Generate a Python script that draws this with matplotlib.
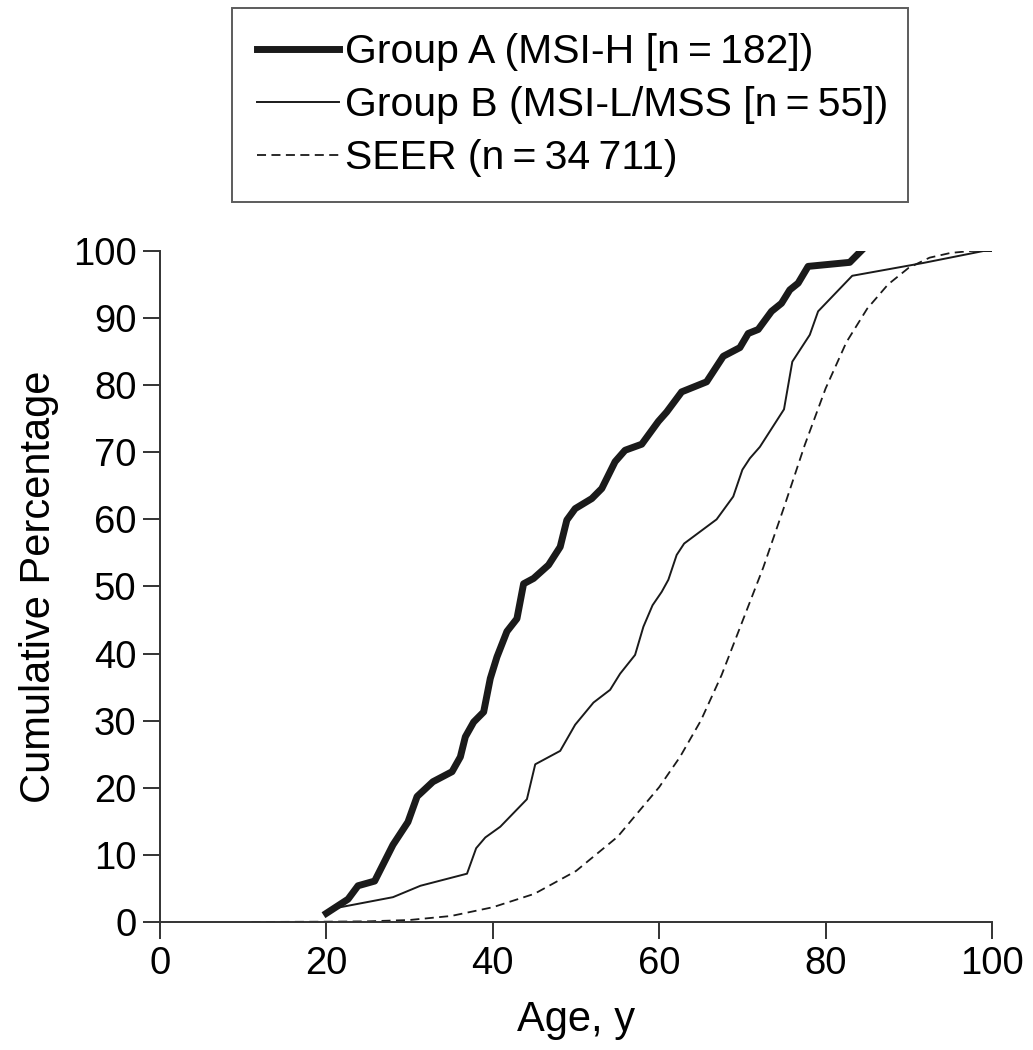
import numpy as np
import matplotlib
matplotlib.use("Agg")
import matplotlib.pyplot as plt

plt.rcParams['font.family'] = ['Liberation Sans', 'DejaVu Sans']

# Group A (MSI-H)
age_a = [20, 22.6, 23.8, 25.8, 28, 29.8, 30.9, 32.8, 35.1, 36.1, 36.7, 37.7, 38.9,
         39.7, 40.5, 41.7, 42.9, 43.7, 44.9, 46.7, 48.1, 48.9, 49.9, 51.9, 53.1,
         54.7, 55.9, 57.9, 59.9, 60.9, 62.7, 65.7, 67.7, 69.7, 70.7, 71.9, 73.5,
         74.7, 75.7, 76.7, 77.9, 82.9, 84.5]
pct_a = [1.3, 3.4, 5.4, 6.1, 11.5, 14.9, 18.7, 20.9, 22.4, 24.6, 27.6, 29.8, 31.3,
         36.3, 39.5, 43.3, 45.2, 50.4, 51.2, 53.2, 55.9, 59.9, 61.6, 63.1, 64.6,
         68.6, 70.3, 71.2, 74.6, 76.0, 79.0, 80.5, 84.3, 85.6, 87.7, 88.3, 91.0,
         92.2, 94.2, 95.2, 97.7, 98.3, 100.3]

# Group B (MSI-L/MSS)
age_b = [19.9, 20.8, 28.0, 31.3, 36.9, 38.0, 39.1, 40.9, 44.1, 45.1, 48.1, 49.9,
         52.1, 54.1, 55.3, 57.1, 58.1, 59.2, 60.3, 61.1, 62.1, 63.0, 66.9, 68.9,
         70.0, 70.9, 72.1, 75.0, 76.0, 78.1, 79.1, 83.2, 91.7, 99.0, 100.0]
pct_b = [1.5, 2.0, 3.7, 5.4, 7.2, 11.0, 12.6, 14.2, 18.3, 23.5, 25.5, 29.4,
         32.7, 34.6, 37.0, 39.8, 44.0, 47.2, 49.2, 51.0, 54.7, 56.4, 60.0, 63.4,
         67.4, 69.1, 70.8, 76.4, 83.5, 87.5, 91.0, 96.3, 98.2, 100.0, 100.0]

# SEER
age_s = [11, 20, 25, 30, 35, 40, 45, 50, 55, 60, 62.5, 65, 67.5, 70, 72.5, 75,
         77.5, 80, 82.5, 85, 87.5, 90, 92.5, 95, 97.5, 100]
pct_s = [0, 0.05, 0.1, 0.3, 0.9, 2.2, 4.2, 7.6, 12.7, 20.1, 24.6, 30.0, 36.8,
         44.8, 52.8, 61.8, 71.1, 79.5, 86.4, 91.4, 95.0, 97.5, 99.0, 99.7, 100, 100]

labels = ['Group A (MSI-H [n\u2009=\u2009182])', 'Group B (MSI-L/MSS [n\u2009=\u200955])',
          'SEER (n\u2009=\u200934\u2009711)']

fig = plt.figure(figsize=(10.33, 10.5), dpi=100)
ax = fig.add_axes([0.1549, 0.1219, 0.8054, 0.6391])

ink = '#1a1a1a'
la, = ax.plot(age_a, pct_a, color=ink, lw=5, solid_joinstyle='round')
lb, = ax.plot(age_b, pct_b, color=ink, lw=1.4)
ls, = ax.plot(age_s, pct_s, color=ink, lw=1.3, dashes=(5, 3))

ax.set_xlim(0, 100)
ax.set_ylim(0, 100)
ax.set_xticks(np.arange(0, 101, 20))
ax.set_yticks(np.arange(0, 101, 10))
for s in ['top', 'right']:
    ax.spines[s].set_visible(False)
for s in ['left', 'bottom']:
    ax.spines[s].set_color('#333333')
    ax.spines[s].set_linewidth(1.4)
ax.tick_params(length=12, width=1.4, color='#333333', labelsize=27.5, pad=5)
ax.set_xlabel('Age, y', fontsize=30, labelpad=13)
ax.set_ylabel('Cumulative Percentage', fontsize=30, labelpad=10)

leg = fig.legend([la, lb, ls], labels, loc='upper left',
                 bbox_to_anchor=(0.2246, 0.9924, 0.654, 0.0), mode='expand',
                 fontsize=29.5, frameon=True, fancybox=False,
                 handlelength=2.0, handletextpad=0.15,
                 labelspacing=0.365, borderpad=0.61, borderaxespad=0)
leg.get_frame().set_edgecolor('#333333')
leg.get_frame().set_linewidth(1.4)

fig.savefig('out.png', dpi=100)
